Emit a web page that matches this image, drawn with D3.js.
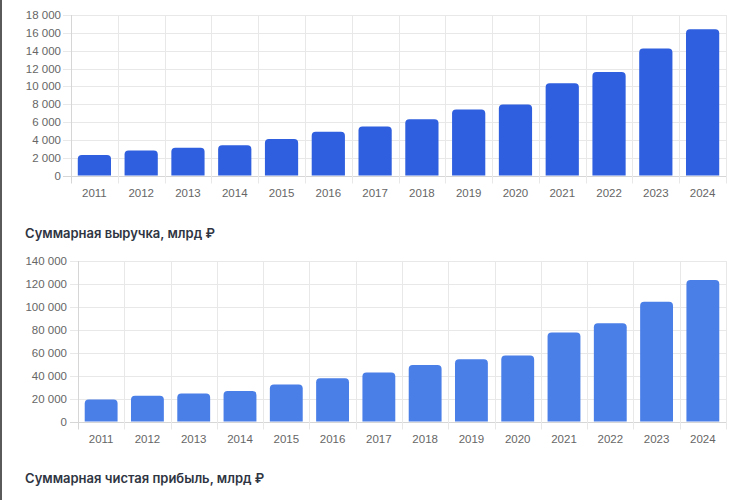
<!DOCTYPE html>
<html>
<head>
<meta charset="utf-8">
<script src="https://cdn.jsdelivr.net/npm/d3@7"></script>
<style>
  html, body { margin: 0; padding: 0; background: #fff; }
  svg { display: block; }
</style>
</head>
<body>
<div id="chart"></div>
<script>
const years = ["2011","2012","2013","2014","2015","2016","2017","2018","2019","2020","2021","2022","2023","2024"];
const revenue = [2300, 2800, 3100, 3400, 4100, 4900, 5500, 6300, 7400, 7950, 10350, 11600, 14250, 16400];
const profit = [19200, 22400, 24400, 26700, 32300, 37800, 42800, 49200, 54400, 57600, 77700, 85800, 104400, 123400];
const revenueTicks = d3.range(0, 18001, 2000);
const profitTicks = d3.range(0, 140001, 20000);

const width = 750, height = 500;
const ru = d3.formatLocale({ decimal: ",", thousands: " ", grouping: [3], currency: ["", ""] });
const fmt = ru.format(",d");

const svg = d3.select("#chart").append("svg")
  .attr("width", width)
  .attr("height", height)
  .style("background-color", "#fff");

// dark strip on the left edge of the screenshot
svg.append("rect").attr("x", 0).attr("y", 0).attr("width", 2).attr("height", height).attr("fill", "#5a5a5a");

function topRounded(x, y, w, h, r) {
  r = Math.min(r, h, w / 2);
  return `M${x},${y + h}V${y + r}Q${x},${y} ${x + r},${y}H${x + w - r}Q${x + w},${y} ${x + w},${y + r}V${y + h}Z`;
}

function drawChart(cfg) {
  const g = svg.append("g");

  const xScale = d3.scaleBand()
    .domain(years)
    .range([cfg.left, cfg.right])
    .paddingInner(0.29)
    .paddingOuter(0.145);

  const yScale = d3.scaleLinear()
    .domain([0, cfg.max])
    .range([cfg.bottom, cfg.top]);

  const step = xScale.step();
  const x0 = cfg.left;

  // horizontal grid + tick marks
  g.selectAll(".hgrid")
    .data(cfg.ticks)
    .enter()
    .append("line")
    .attr("x1", x0 - 8)
    .attr("x2", cfg.right)
    .attr("y1", d => Math.round(yScale(d)) + 0.5)
    .attr("y2", d => Math.round(yScale(d)) + 0.5)
    .attr("stroke", d => d === 0 ? "#d6d6d6" : "#e8e8e8")
    .attr("stroke-width", 1);

  // vertical grid lines at category boundaries
  g.selectAll(".vgrid")
    .data(d3.range(years.length + 1))
    .enter()
    .append("line")
    .attr("x1", i => Math.round(x0 + i * step) + 0.5)
    .attr("x2", i => Math.round(x0 + i * step) + 0.5)
    .attr("y1", cfg.top)
    .attr("y2", cfg.bottom + 8)
    .attr("stroke", i => i === 0 ? "#d6d6d6" : "#e8e8e8")
    .attr("stroke-width", 1);

  // y labels
  g.selectAll(".ylab")
    .data(cfg.ticks)
    .enter()
    .append("text")
    .attr("x", cfg.labelX)
    .attr("y", d => yScale(d))
    .attr("dy", "0.35em")
    .attr("text-anchor", "end")
    .attr("font-family", "'Liberation Sans', Arial, sans-serif")
    .attr("font-size", "11.5px")
    .attr("fill", "#666")
    .text(d => fmt(d));

  // x labels
  g.selectAll(".xlab")
    .data(years)
    .enter()
    .append("text")
    .attr("x", d => xScale(d) + xScale.bandwidth() / 2)
    .attr("y", cfg.bottom + 21)
    .attr("text-anchor", "middle")
    .attr("font-family", "'Liberation Sans', Arial, sans-serif")
    .attr("font-size", "11.5px")
    .attr("fill", "#666")
    .text(d => d);

  // bars
  g.selectAll(".bar")
    .data(cfg.values)
    .enter()
    .append("path")
    .attr("d", (v, i) => {
      const x = xScale(years[i]);
      const y = yScale(v);
      return topRounded(x, y, xScale.bandwidth(), cfg.bottom - y, 4);
    })
    .attr("fill", cfg.color);

  // title below chart
  svg.append("text")
    .attr("x", 25)
    .attr("y", cfg.titleY)
    .attr("font-family", "Inter, 'Noto Sans', sans-serif")
    .attr("font-weight", 600)
    .attr("font-size", "13px")
    .attr("fill", "#2f3542")
    .text(cfg.title);
}

drawChart({
  values: revenue, ticks: revenueTicks, max: 18000,
  left: 71, right: 726, top: 15, bottom: 175.5, labelX: 61,
  color: "#2f5fde", title: "Суммарная выручка, млрд ₽", titleY: 238
});

drawChart({
  values: profit, ticks: profitTicks, max: 140000,
  left: 78, right: 726, top: 261, bottom: 421.5, labelX: 67,
  color: "#4a7fe8", title: "Суммарная чистая прибыль, млрд ₽", titleY: 483
});
</script>
</body>
</html>
